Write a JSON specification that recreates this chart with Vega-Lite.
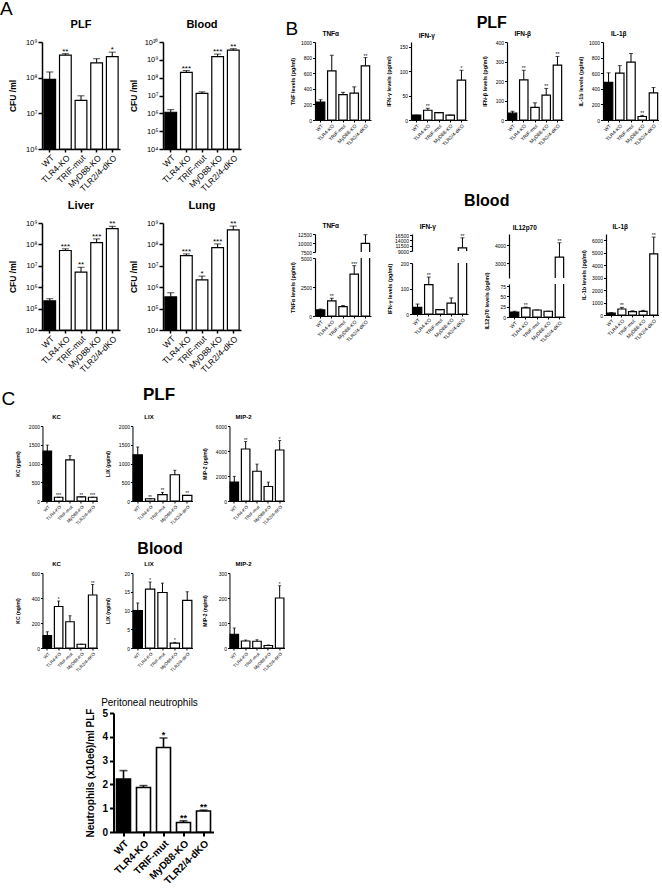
{
"$schema": "https://vega.github.io/schema/vega-lite/v6.json",
"padding": {"left": 0, "top": 0, "right": 0, "bottom": 0},
"datasets": {
"aPLF": [{"g":"WT","v":9e7,"e":1.45e8,"s":""},{"g":"TLR4-KO","v":4.3e8,"e":4.7e8,"s":"**"},{"g":"TRIF-mut","v":2.3e7,"e":3.1e7,"s":""},{"g":"MyD88-KO","v":2.6e8,"e":3.4e8,"s":""},{"g":"TLR2/4-dKO","v":3.9e8,"e":5.2e8,"s":"*"}],
"aBlood": [{"g":"WT","v":1.15e6,"e":1.6e6,"s":""},{"g":"TLR4-KO","v":2.0e8,"e":2.5e8,"s":"***"},{"g":"TRIF-mut","v":1.3e7,"e":1.6e7,"s":""},{"g":"MyD88-KO","v":1.5e9,"e":2.1e9,"s":"***"},{"g":"TLR2/4-dKO","v":3.5e9,"e":4.2e9,"s":"**"}],
"aLiver": [{"g":"WT","v":2.3e5,"e":2.9e5,"s":""},{"g":"TLR4-KO","v":5.2e7,"e":6.2e7,"s":"***"},{"g":"TRIF-mut","v":5.1e6,"e":8.5e6,"s":"**"},{"g":"MyD88-KO","v":1.2e8,"e":1.8e8,"s":"***"},{"g":"TLR2/4-dKO","v":5.5e8,"e":7e8,"s":"**"}],
"aLung": [{"g":"WT","v":3.5e5,"e":5.5e5,"s":""},{"g":"TLR4-KO","v":3e7,"e":3.6e7,"s":"***"},{"g":"TRIF-mut","v":2.2e6,"e":3.3e6,"s":"*"},{"g":"MyD88-KO","v":7e7,"e":1.05e8,"s":"***"},{"g":"TLR2/4-dKO","v":4.8e8,"e":7.2e8,"s":"**"}],
"bpTNF": [{"g":"WT","v":230,"e":260,"s":""},{"g":"TLR4-KO","v":630,"e":830,"s":""},{"g":"TRIF-mut","v":325,"e":355,"s":""},{"g":"MyD88-KO","v":345,"e":425,"s":""},{"g":"TLR2/4-dKO","v":695,"e":800,"s":"**"}],
"bpIFNg": [{"g":"WT","v":10,"e":10,"s":""},{"g":"TLR4-KO","v":20,"e":24,"s":"**"},{"g":"TRIF-mut","v":15,"e":15,"s":""},{"g":"MyD88-KO","v":10,"e":10,"s":""},{"g":"TLR2/4-dKO","v":82,"e":102,"s":"*"}],
"bpIFNb": [{"g":"WT","v":35,"e":45,"s":""},{"g":"TLR4-KO","v":206,"e":255,"s":"**"},{"g":"TRIF-mut","v":65,"e":88,"s":""},{"g":"MyD88-KO","v":128,"e":162,"s":"**"},{"g":"TLR2/4-dKO","v":281,"e":326,"s":"**"}],
"bpIL1b": [{"g":"WT","v":482,"e":605,"s":""},{"g":"TLR4-KO","v":600,"e":697,"s":""},{"g":"TRIF-mut","v":743,"e":852,"s":""},{"g":"MyD88-KO","v":45,"e":60,"s":"**"},{"g":"TLR2/4-dKO","v":347,"e":416,"s":""}],
"bbTNF": [{"g":"WT","v":520,"e":600,"s":""},{"g":"TLR4-KO","v":1300,"e":1530,"s":"**"},{"g":"TRIF-mut","v":810,"e":900,"s":""},{"g":"MyD88-KO","v":3610,"e":4340,"s":"***"},{"g":"TLR2/4-dKO","v":9900,"e":12300,"s":"**"}],
"bbIFNg": [{"g":"WT","v":26,"e":39,"s":""},{"g":"TLR4-KO","v":115,"e":145,"s":"**"},{"g":"TRIF-mut","v":17,"e":17,"s":""},{"g":"MyD88-KO","v":43,"e":63,"s":""},{"g":"TLR2/4-dKO","v":10500,"e":15200,"s":"**"}],
"bbIL12": [{"g":"WT","v":12,"e":14,"s":""},{"g":"TLR4-KO","v":22,"e":24,"s":"**"},{"g":"TRIF-mut","v":17,"e":17,"s":""},{"g":"MyD88-KO","v":14,"e":14,"s":""},{"g":"TLR2/4-dKO","v":3340,"e":4120,"s":"**"}],
"bbIL1b": [{"g":"WT","v":150,"e":200,"s":""},{"g":"TLR4-KO","v":480,"e":610,"s":"**"},{"g":"TRIF-mut","v":267,"e":340,"s":""},{"g":"MyD88-KO","v":293,"e":370,"s":""},{"g":"TLR2/4-dKO","v":4900,"e":6250,"s":"**"}],
"cpKC": [{"g":"WT","v":1330,"e":1490,"s":""},{"g":"TLR4-KO","v":100,"e":100,"s":"***"},{"g":"TRIF-mut","v":1096,"e":1210,"s":""},{"g":"MyD88-KO","v":110,"e":110,"s":"**"},{"g":"TLR2/4-dKO","v":100,"e":100,"s":"***"}],
"cpLIX": [{"g":"WT","v":1230,"e":1440,"s":""},{"g":"TLR4-KO","v":60,"e":60,"s":"**"},{"g":"TRIF-mut","v":170,"e":230,"s":"**"},{"g":"MyD88-KO","v":700,"e":820,"s":""},{"g":"TLR2/4-dKO","v":150,"e":150,"s":"**"}],
"cpMIP": [{"g":"WT","v":1510,"e":1970,"s":""},{"g":"TLR4-KO","v":4160,"e":4760,"s":"**"},{"g":"TRIF-mut","v":2380,"e":2950,"s":""},{"g":"MyD88-KO","v":1160,"e":1510,"s":""},{"g":"TLR2/4-dKO","v":4080,"e":4840,"s":"*"}],
"cbKC": [{"g":"WT","v":100,"e":130,"s":""},{"g":"TLR4-KO","v":332,"e":376,"s":"*"},{"g":"TRIF-mut","v":210,"e":258,"s":""},{"g":"MyD88-KO","v":30,"e":30,"s":""},{"g":"TLR2/4-dKO","v":424,"e":508,"s":"**"}],
"cbLIX": [{"g":"WT","v":10,"e":12,"s":""},{"g":"TLR4-KO","v":15.7,"e":17.6,"s":"*"},{"g":"TRIF-mut","v":14.8,"e":17.3,"s":""},{"g":"MyD88-KO","v":1.3,"e":1.5,"s":"*"},{"g":"TLR2/4-dKO","v":12.7,"e":15,"s":""}],
"cbMIP": [{"g":"WT","v":55,"e":80,"s":""},{"g":"TLR4-KO","v":28,"e":32,"s":""},{"g":"TRIF-mut","v":27,"e":33,"s":""},{"g":"MyD88-KO","v":10,"e":12,"s":""},{"g":"TLR2/4-dKO","v":200,"e":249,"s":"*"}],
"neut": [{"g":"WT","v":2.22,"e":2.58,"s":""},{"g":"TLR4-KO","v":1.87,"e":1.95,"s":""},{"g":"TRIF-mut","v":3.55,"e":3.95,"s":"*"},{"g":"MyD88-KO","v":0.4,"e":0.47,"s":"**"},{"g":"TLR2/4-dKO","v":0.88,"e":0.92,"s":"**"}]
},
"spacing": 12,
"vconcat": [
{
"spacing": 44,
"hconcat": [
{
"title": {"text": "A", "fontSize": 19, "fontWeight": "normal", "anchor": "start", "frame": "bounds", "offset": 0, "dx": -8},
"spacing": 7,
"vconcat": [
{"bounds": "flush", "spacing": 43, "hconcat": [
{"width": 78, "height": 107, "data": {"name": "aPLF"},
 "title": {"text": "PLF", "fontSize": 11, "fontWeight": "bold", "offset": 8},
 "encoding": {"x": {"field": "g", "type": "nominal", "sort": null, "title": null, "scale": {"paddingInner": 0.25, "paddingOuter": 0.12}, "axis": {"style": "axAx", "labelAngle": -45}}},
 "layer": [
  {"mark": "bar", "encoding": {"y": {"field": "v", "type": "quantitative", "scale": {"type": "log", "domain": [1e6, 1e9]}, "axis": {"style": "axA", "title": "CFU /ml", "values": [1e6, 1e7, 1e8, 1e9], "labelExpr": "['','','','','10⁴','10⁵','10⁶','10⁷','10⁸','10⁹','10¹⁰'][round(log(datum.value)/LN10)]"}}, "y2": {"datum": 1e6}, "fill": {"condition": {"test": "datum.g == 'WT'", "value": "black"}, "value": "white"}}},
  {"mark": "rule", "encoding": {"y": {"field": "v", "type": "quantitative", "axis": {"style": "axA", "title": "CFU /ml", "values": [1e6, 1e7, 1e8, 1e9], "labelExpr": "['','','','','10⁴','10⁵','10⁶','10⁷','10⁸','10⁹','10¹⁰'][round(log(datum.value)/LN10)]"}}, "y2": {"field": "e"}}},
  {"mark": {"type": "tick", "size": 7}, "encoding": {"y": {"field": "e", "type": "quantitative", "axis": {"style": "axA", "title": "CFU /ml", "values": [1e6, 1e7, 1e8, 1e9], "labelExpr": "['','','','','10⁴','10⁵','10⁶','10⁷','10⁸','10⁹','10¹⁰'][round(log(datum.value)/LN10)]"}}}},
  {"mark": {"type": "text", "fontSize": 8}, "encoding": {"y": {"field": "e", "type": "quantitative", "axis": {"style": "axA", "title": "CFU /ml", "values": [1e6, 1e7, 1e8, 1e9], "labelExpr": "['','','','','10⁴','10⁵','10⁶','10⁷','10⁸','10⁹','10¹⁰'][round(log(datum.value)/LN10)]"}}, "text": {"field": "s"}}}
 ]},
{"width": 78, "height": 107, "data": {"name": "aBlood"},
 "title": {"text": "Blood", "fontSize": 11, "fontWeight": "bold", "offset": 8},
 "encoding": {"x": {"field": "g", "type": "nominal", "sort": null, "title": null, "scale": {"paddingInner": 0.25, "paddingOuter": 0.12}, "axis": {"style": "axAx", "labelAngle": -45}}},
 "layer": [
  {"mark": "bar", "encoding": {"y": {"field": "v", "type": "quantitative", "scale": {"type": "log", "domain": [1e4, 1e10]}, "axis": {"style": "axA", "title": "CFU /ml", "values": [1e4, 1e5, 1e6, 1e7, 1e8, 1e9, 1e10], "labelExpr": "['','','','','10⁴','10⁵','10⁶','10⁷','10⁸','10⁹','10¹⁰'][round(log(datum.value)/LN10)]"}}, "y2": {"datum": 1e4}, "fill": {"condition": {"test": "datum.g == 'WT'", "value": "black"}, "value": "white"}}},
  {"mark": "rule", "encoding": {"y": {"field": "v", "type": "quantitative", "axis": {"style": "axA", "title": "CFU /ml", "values": [1e4, 1e5, 1e6, 1e7, 1e8, 1e9, 1e10], "labelExpr": "['','','','','10⁴','10⁵','10⁶','10⁷','10⁸','10⁹','10¹⁰'][round(log(datum.value)/LN10)]"}}, "y2": {"field": "e"}}},
  {"mark": {"type": "tick", "size": 7}, "encoding": {"y": {"field": "e", "type": "quantitative", "axis": {"style": "axA", "title": "CFU /ml", "values": [1e4, 1e5, 1e6, 1e7, 1e8, 1e9, 1e10], "labelExpr": "['','','','','10⁴','10⁵','10⁶','10⁷','10⁸','10⁹','10¹⁰'][round(log(datum.value)/LN10)]"}}}},
  {"mark": {"type": "text", "fontSize": 8}, "encoding": {"y": {"field": "e", "type": "quantitative", "axis": {"style": "axA", "title": "CFU /ml", "values": [1e4, 1e5, 1e6, 1e7, 1e8, 1e9, 1e10], "labelExpr": "['','','','','10⁴','10⁵','10⁶','10⁷','10⁸','10⁹','10¹⁰'][round(log(datum.value)/LN10)]"}}, "text": {"field": "s"}}}
 ]}
]},
{"bounds": "flush", "spacing": 43, "hconcat": [
{"width": 78, "height": 107, "data": {"name": "aLiver"},
 "title": {"text": "Liver", "fontSize": 11, "fontWeight": "bold", "offset": 8},
 "encoding": {"x": {"field": "g", "type": "nominal", "sort": null, "title": null, "scale": {"paddingInner": 0.25, "paddingOuter": 0.12}, "axis": {"style": "axAx", "labelAngle": -45}}},
 "layer": [
  {"mark": "bar", "encoding": {"y": {"field": "v", "type": "quantitative", "scale": {"type": "log", "domain": [1e4, 1e9]}, "axis": {"style": "axA", "title": "CFU /ml", "values": [1e4, 1e5, 1e6, 1e7, 1e8, 1e9], "labelExpr": "['','','','','10⁴','10⁵','10⁶','10⁷','10⁸','10⁹','10¹⁰'][round(log(datum.value)/LN10)]"}}, "y2": {"datum": 1e4}, "fill": {"condition": {"test": "datum.g == 'WT'", "value": "black"}, "value": "white"}}},
  {"mark": "rule", "encoding": {"y": {"field": "v", "type": "quantitative", "axis": {"style": "axA", "title": "CFU /ml", "values": [1e4, 1e5, 1e6, 1e7, 1e8, 1e9], "labelExpr": "['','','','','10⁴','10⁵','10⁶','10⁷','10⁸','10⁹','10¹⁰'][round(log(datum.value)/LN10)]"}}, "y2": {"field": "e"}}},
  {"mark": {"type": "tick", "size": 7}, "encoding": {"y": {"field": "e", "type": "quantitative", "axis": {"style": "axA", "title": "CFU /ml", "values": [1e4, 1e5, 1e6, 1e7, 1e8, 1e9], "labelExpr": "['','','','','10⁴','10⁵','10⁶','10⁷','10⁸','10⁹','10¹⁰'][round(log(datum.value)/LN10)]"}}}},
  {"mark": {"type": "text", "fontSize": 8}, "encoding": {"y": {"field": "e", "type": "quantitative", "axis": {"style": "axA", "title": "CFU /ml", "values": [1e4, 1e5, 1e6, 1e7, 1e8, 1e9], "labelExpr": "['','','','','10⁴','10⁵','10⁶','10⁷','10⁸','10⁹','10¹⁰'][round(log(datum.value)/LN10)]"}}, "text": {"field": "s"}}}
 ]},
{"width": 78, "height": 107, "data": {"name": "aLung"},
 "title": {"text": "Lung", "fontSize": 11, "fontWeight": "bold", "offset": 8},
 "encoding": {"x": {"field": "g", "type": "nominal", "sort": null, "title": null, "scale": {"paddingInner": 0.25, "paddingOuter": 0.12}, "axis": {"style": "axAx", "labelAngle": -45}}},
 "layer": [
  {"mark": "bar", "encoding": {"y": {"field": "v", "type": "quantitative", "scale": {"type": "log", "domain": [1e4, 1e9]}, "axis": {"style": "axA", "title": "CFU /ml", "values": [1e4, 1e5, 1e6, 1e7, 1e8, 1e9], "labelExpr": "['','','','','10⁴','10⁵','10⁶','10⁷','10⁸','10⁹','10¹⁰'][round(log(datum.value)/LN10)]"}}, "y2": {"datum": 1e4}, "fill": {"condition": {"test": "datum.g == 'WT'", "value": "black"}, "value": "white"}}},
  {"mark": "rule", "encoding": {"y": {"field": "v", "type": "quantitative", "axis": {"style": "axA", "title": "CFU /ml", "values": [1e4, 1e5, 1e6, 1e7, 1e8, 1e9], "labelExpr": "['','','','','10⁴','10⁵','10⁶','10⁷','10⁸','10⁹','10¹⁰'][round(log(datum.value)/LN10)]"}}, "y2": {"field": "e"}}},
  {"mark": {"type": "tick", "size": 7}, "encoding": {"y": {"field": "e", "type": "quantitative", "axis": {"style": "axA", "title": "CFU /ml", "values": [1e4, 1e5, 1e6, 1e7, 1e8, 1e9], "labelExpr": "['','','','','10⁴','10⁵','10⁶','10⁷','10⁸','10⁹','10¹⁰'][round(log(datum.value)/LN10)]"}}}},
  {"mark": {"type": "text", "fontSize": 8}, "encoding": {"y": {"field": "e", "type": "quantitative", "axis": {"style": "axA", "title": "CFU /ml", "values": [1e4, 1e5, 1e6, 1e7, 1e8, 1e9], "labelExpr": "['','','','','10⁴','10⁵','10⁶','10⁷','10⁸','10⁹','10¹⁰'][round(log(datum.value)/LN10)]"}}, "text": {"field": "s"}}}
 ]}
]}
]
},
{
"title": {"text": "B", "fontSize": 19, "fontWeight": "normal", "anchor": "start", "frame": "bounds", "offset": -24, "dx": -5},
"spacing": 45,
"vconcat": [
{"title": {"text": "PLF", "fontSize": 16, "fontWeight": "bold", "anchor": "middle", "frame": "bounds", "offset": 0, "dx": 17},
 "bounds": "flush", "spacing": 40, "hconcat": [
{"width": 56, "height": 78, "data": {"name": "bpTNF"},
 "title": {"text": "TNFα", "fontSize": 6.5, "fontWeight": "bold", "frame": "bounds", "offset": 3},
 "encoding": {"x": {"field": "g", "type": "nominal", "sort": null, "title": null, "scale": {"paddingInner": 0.25, "paddingOuter": 0.12}, "axis": {"style": "axBx", "labelAngle": -45}}},
 "layer": [
  {"mark": "bar", "encoding": {"y": {"field": "v", "type": "quantitative", "scale": {"domain": [0, 1000]}, "axis": {"style": "axB", "title": "TNF levels (pg/ml)", "values": [0, 200, 400, 600, 800, 1000]}}, "fill": {"condition": {"test": "datum.g == 'WT'", "value": "black"}, "value": "white"}}},
  {"mark": "rule", "encoding": {"y": {"field": "v", "type": "quantitative", "axis": {"style": "axB", "title": "TNF levels (pg/ml)", "values": [0, 200, 400, 600, 800, 1000]}}, "y2": {"field": "e"}}},
  {"mark": {"type": "tick", "size": 4}, "encoding": {"y": {"field": "e", "type": "quantitative", "axis": {"style": "axB", "title": "TNF levels (pg/ml)", "values": [0, 200, 400, 600, 800, 1000]}}}},
  {"mark": {"type": "text", "fontSize": 5}, "encoding": {"y": {"field": "e", "type": "quantitative", "axis": {"style": "axB", "title": "TNF levels (pg/ml)", "values": [0, 200, 400, 600, 800, 1000]}}, "text": {"field": "s"}}}
 ]},
{"width": 56, "height": 78, "data": {"name": "bpIFNg"},
 "title": {"text": "IFN-γ", "fontSize": 6.5, "fontWeight": "bold", "frame": "bounds", "offset": 3},
 "encoding": {"x": {"field": "g", "type": "nominal", "sort": null, "title": null, "scale": {"paddingInner": 0.25, "paddingOuter": 0.12}, "axis": {"style": "axBx", "labelAngle": -45}}},
 "layer": [
  {"mark": "bar", "encoding": {"y": {"field": "v", "type": "quantitative", "scale": {"domain": [0, 150]}, "axis": {"style": "axB", "title": "IFN-γ levels (pg/ml)", "values": [0, 50, 100, 150]}}, "fill": {"condition": {"test": "datum.g == 'WT'", "value": "black"}, "value": "white"}}},
  {"mark": "rule", "encoding": {"y": {"field": "v", "type": "quantitative", "axis": {"style": "axB", "title": "IFN-γ levels (pg/ml)", "values": [0, 50, 100, 150]}}, "y2": {"field": "e"}}},
  {"mark": {"type": "tick", "size": 4}, "encoding": {"y": {"field": "e", "type": "quantitative", "axis": {"style": "axB", "title": "IFN-γ levels (pg/ml)", "values": [0, 50, 100, 150]}}}},
  {"mark": {"type": "text", "fontSize": 5}, "encoding": {"y": {"field": "e", "type": "quantitative", "axis": {"style": "axB", "title": "IFN-γ levels (pg/ml)", "values": [0, 50, 100, 150]}}, "text": {"field": "s"}}}
 ]},
{"width": 56, "height": 78, "data": {"name": "bpIFNb"},
 "title": {"text": "IFN-β", "fontSize": 6.5, "fontWeight": "bold", "frame": "bounds", "offset": 3},
 "encoding": {"x": {"field": "g", "type": "nominal", "sort": null, "title": null, "scale": {"paddingInner": 0.25, "paddingOuter": 0.12}, "axis": {"style": "axBx", "labelAngle": -45}}},
 "layer": [
  {"mark": "bar", "encoding": {"y": {"field": "v", "type": "quantitative", "scale": {"domain": [0, 400]}, "axis": {"style": "axB", "title": "IFN-β levels (pg/ml)", "values": [0, 100, 200, 300, 400]}}, "fill": {"condition": {"test": "datum.g == 'WT'", "value": "black"}, "value": "white"}}},
  {"mark": "rule", "encoding": {"y": {"field": "v", "type": "quantitative", "axis": {"style": "axB", "title": "IFN-β levels (pg/ml)", "values": [0, 100, 200, 300, 400]}}, "y2": {"field": "e"}}},
  {"mark": {"type": "tick", "size": 4}, "encoding": {"y": {"field": "e", "type": "quantitative", "axis": {"style": "axB", "title": "IFN-β levels (pg/ml)", "values": [0, 100, 200, 300, 400]}}}},
  {"mark": {"type": "text", "fontSize": 5}, "encoding": {"y": {"field": "e", "type": "quantitative", "axis": {"style": "axB", "title": "IFN-β levels (pg/ml)", "values": [0, 100, 200, 300, 400]}}, "text": {"field": "s"}}}
 ]},
{"width": 56, "height": 78, "data": {"name": "bpIL1b"},
 "title": {"text": "IL-1β", "fontSize": 6.5, "fontWeight": "bold", "frame": "bounds", "offset": 3},
 "encoding": {"x": {"field": "g", "type": "nominal", "sort": null, "title": null, "scale": {"paddingInner": 0.25, "paddingOuter": 0.12}, "axis": {"style": "axBx", "labelAngle": -45}}},
 "layer": [
  {"mark": "bar", "encoding": {"y": {"field": "v", "type": "quantitative", "scale": {"domain": [0, 1000]}, "axis": {"style": "axB", "title": "IL-1b levels (pg/ml)", "values": [0, 200, 400, 600, 800, 1000]}}, "fill": {"condition": {"test": "datum.g == 'WT'", "value": "black"}, "value": "white"}}},
  {"mark": "rule", "encoding": {"y": {"field": "v", "type": "quantitative", "axis": {"style": "axB", "title": "IL-1b levels (pg/ml)", "values": [0, 200, 400, 600, 800, 1000]}}, "y2": {"field": "e"}}},
  {"mark": {"type": "tick", "size": 4}, "encoding": {"y": {"field": "e", "type": "quantitative", "axis": {"style": "axB", "title": "IL-1b levels (pg/ml)", "values": [0, 200, 400, 600, 800, 1000]}}}},
  {"mark": {"type": "text", "fontSize": 5}, "encoding": {"y": {"field": "e", "type": "quantitative", "axis": {"style": "axB", "title": "IL-1b levels (pg/ml)", "values": [0, 200, 400, 600, 800, 1000]}}, "text": {"field": "s"}}}
 ]}
]},
{"title": {"text": "Blood", "fontSize": 16, "fontWeight": "bold", "anchor": "middle", "offset": 14, "dx": 12},
 "spacing": 16, "hconcat": [
{"title": {"text": "TNFα", "fontSize": 6.5, "fontWeight": "bold", "anchor": "middle", "frame": "bounds", "offset": 3},
 "bounds": "flush", "spacing": 6, "vconcat": [
 {"width": 56, "height": 18, "data": {"name": "bbTNF"},
  "encoding": {"x": {"field": "g", "type": "nominal", "sort": null, "title": null, "scale": {"paddingInner": 0.25, "paddingOuter": 0.12}, "axis": null}},
  "layer": [
   {"mark": {"type": "bar", "clip": true}, "encoding": {"y": {"field": "v", "type": "quantitative", "scale": {"domain": [7500, 12500]}, "axis": {"style": "axB", "title": null, "values": [7500, 10000, 12500]}}, "fill": {"condition": {"test": "datum.g == 'WT'", "value": "black"}, "value": "white"}}},
   {"mark": {"type": "rule", "clip": true}, "encoding": {"y": {"field": "v", "type": "quantitative", "axis": {"style": "axB", "title": null, "values": [7500, 10000, 12500]}}, "y2": {"field": "e"}}},
   {"mark": {"type": "tick", "size": 4, "clip": true}, "encoding": {"y": {"field": "e", "type": "quantitative", "axis": {"style": "axB", "title": null, "values": [7500, 10000, 12500]}}}},
   {"mark": {"type": "text", "fontSize": 5, "clip": true}, "encoding": {"y": {"field": "e", "type": "quantitative", "axis": {"style": "axB", "title": null, "values": [7500, 10000, 12500]}}, "text": {"field": "s"}}}
  ]},
 {"width": 56, "height": 58, "data": {"name": "bbTNF"},
  "encoding": {"x": {"field": "g", "type": "nominal", "sort": null, "title": null, "scale": {"paddingInner": 0.25, "paddingOuter": 0.12}, "axis": {"style": "axBx", "labelAngle": -45}}},
  "layer": [
   {"mark": {"type": "bar", "clip": true}, "encoding": {"y": {"field": "v", "type": "quantitative", "scale": {"domain": [0, 5000]}, "axis": {"style": "axB", "title": "TNFα levels (pg/ml)", "values": [0, 2500, 5000]}}, "fill": {"condition": {"test": "datum.g == 'WT'", "value": "black"}, "value": "white"}}},
   {"mark": {"type": "rule", "clip": true}, "encoding": {"y": {"field": "v", "type": "quantitative", "axis": {"style": "axB", "title": "TNFα levels (pg/ml)", "values": [0, 2500, 5000]}}, "y2": {"field": "e"}}},
   {"mark": {"type": "tick", "size": 4, "clip": true}, "encoding": {"y": {"field": "e", "type": "quantitative", "axis": {"style": "axB", "title": "TNFα levels (pg/ml)", "values": [0, 2500, 5000]}}}},
   {"mark": {"type": "text", "fontSize": 5, "clip": true}, "encoding": {"y": {"field": "e", "type": "quantitative", "axis": {"style": "axB", "title": "TNFα levels (pg/ml)", "values": [0, 2500, 5000]}}, "text": {"field": "s"}}}
  ]}
 ]},
{"title": {"text": "IFN-γ", "fontSize": 6.5, "fontWeight": "bold", "anchor": "middle", "frame": "bounds", "offset": 3},
 "bounds": "flush", "spacing": 12, "vconcat": [
 {"width": 56, "height": 17, "data": {"name": "bbIFNg"},
  "encoding": {"x": {"field": "g", "type": "nominal", "sort": null, "title": null, "scale": {"paddingInner": 0.25, "paddingOuter": 0.12}, "axis": null}},
  "layer": [
   {"mark": {"type": "bar", "clip": true}, "encoding": {"y": {"field": "v", "type": "quantitative", "scale": {"domain": [9000, 16500]}, "axis": {"style": "axB", "title": null, "values": [9000, 11500, 14000, 16500]}}, "fill": {"condition": {"test": "datum.g == 'WT'", "value": "black"}, "value": "white"}}},
   {"mark": {"type": "rule", "clip": true}, "encoding": {"y": {"field": "v", "type": "quantitative", "axis": {"style": "axB", "title": null, "values": [9000, 11500, 14000, 16500]}}, "y2": {"field": "e"}}},
   {"mark": {"type": "tick", "size": 4, "clip": true}, "encoding": {"y": {"field": "e", "type": "quantitative", "axis": {"style": "axB", "title": null, "values": [9000, 11500, 14000, 16500]}}}},
   {"mark": {"type": "text", "fontSize": 5, "clip": true}, "encoding": {"y": {"field": "e", "type": "quantitative", "axis": {"style": "axB", "title": null, "values": [9000, 11500, 14000, 16500]}}, "text": {"field": "s"}}}
  ]},
 {"width": 56, "height": 51, "data": {"name": "bbIFNg"},
  "encoding": {"x": {"field": "g", "type": "nominal", "sort": null, "title": null, "scale": {"paddingInner": 0.25, "paddingOuter": 0.12}, "axis": {"style": "axBx", "labelAngle": -45}}},
  "layer": [
   {"mark": {"type": "bar", "clip": true}, "encoding": {"y": {"field": "v", "type": "quantitative", "scale": {"domain": [0, 200]}, "axis": {"style": "axB", "title": "IFN-γ levels (pg/ml)", "values": [0, 100, 200]}}, "fill": {"condition": {"test": "datum.g == 'WT'", "value": "black"}, "value": "white"}}},
   {"mark": {"type": "rule", "clip": true}, "encoding": {"y": {"field": "v", "type": "quantitative", "axis": {"style": "axB", "title": "IFN-γ levels (pg/ml)", "values": [0, 100, 200]}}, "y2": {"field": "e"}}},
   {"mark": {"type": "tick", "size": 4, "clip": true}, "encoding": {"y": {"field": "e", "type": "quantitative", "axis": {"style": "axB", "title": "IFN-γ levels (pg/ml)", "values": [0, 100, 200]}}}},
   {"mark": {"type": "text", "fontSize": 5, "clip": true}, "encoding": {"y": {"field": "e", "type": "quantitative", "axis": {"style": "axB", "title": "IFN-γ levels (pg/ml)", "values": [0, 100, 200]}}, "text": {"field": "s"}}}
  ]}
 ]},
{"title": {"text": "IL12p70", "fontSize": 6.5, "fontWeight": "bold", "anchor": "middle", "frame": "bounds", "offset": 3},
 "bounds": "flush", "spacing": 6, "vconcat": [
 {"width": 56, "height": 44, "data": {"name": "bbIL12"},
  "encoding": {"x": {"field": "g", "type": "nominal", "sort": null, "title": null, "scale": {"paddingInner": 0.25, "paddingOuter": 0.12}, "axis": null}},
  "layer": [
   {"mark": {"type": "bar", "clip": true}, "encoding": {"y": {"field": "v", "type": "quantitative", "scale": {"domain": [2200, 4470]}, "axis": {"style": "axB", "title": null, "values": [3000, 4000]}}, "fill": {"condition": {"test": "datum.g == 'WT'", "value": "black"}, "value": "white"}}},
   {"mark": {"type": "rule", "clip": true}, "encoding": {"y": {"field": "v", "type": "quantitative", "axis": {"style": "axB", "title": null, "values": [3000, 4000]}}, "y2": {"field": "e"}}},
   {"mark": {"type": "tick", "size": 4, "clip": true}, "encoding": {"y": {"field": "e", "type": "quantitative", "axis": {"style": "axB", "title": null, "values": [3000, 4000]}}}},
   {"mark": {"type": "text", "fontSize": 5, "clip": true}, "encoding": {"y": {"field": "e", "type": "quantitative", "axis": {"style": "axB", "title": null, "values": [3000, 4000]}}, "text": {"field": "s"}}}
  ]},
 {"width": 56, "height": 33, "data": {"name": "bbIL12"},
  "encoding": {"x": {"field": "g", "type": "nominal", "sort": null, "title": null, "scale": {"paddingInner": 0.25, "paddingOuter": 0.12}, "axis": {"style": "axBx", "labelAngle": -45}}},
  "layer": [
   {"mark": {"type": "bar", "clip": true}, "encoding": {"y": {"field": "v", "type": "quantitative", "scale": {"domain": [0, 75]}, "axis": {"style": "axB", "title": "IL12p70 levels (pg/ml)", "values": [0, 25, 50, 75]}}, "fill": {"condition": {"test": "datum.g == 'WT'", "value": "black"}, "value": "white"}}},
   {"mark": {"type": "rule", "clip": true}, "encoding": {"y": {"field": "v", "type": "quantitative", "axis": {"style": "axB", "title": "IL12p70 levels (pg/ml)", "values": [0, 25, 50, 75]}}, "y2": {"field": "e"}}},
   {"mark": {"type": "tick", "size": 4, "clip": true}, "encoding": {"y": {"field": "e", "type": "quantitative", "axis": {"style": "axB", "title": "IL12p70 levels (pg/ml)", "values": [0, 25, 50, 75]}}}},
   {"mark": {"type": "text", "fontSize": 5, "clip": true}, "encoding": {"y": {"field": "e", "type": "quantitative", "axis": {"style": "axB", "title": "IL12p70 levels (pg/ml)", "values": [0, 25, 50, 75]}}, "text": {"field": "s"}}}
  ]}
 ]},
{"width": 53, "height": 81, "data": {"name": "bbIL1b"},
 "title": {"text": "IL-1β", "fontSize": 6.5, "fontWeight": "bold", "frame": "bounds", "offset": 3},
 "encoding": {"x": {"field": "g", "type": "nominal", "sort": null, "title": null, "scale": {"paddingInner": 0.25, "paddingOuter": 0.12}, "axis": {"style": "axBx", "labelAngle": -45}}},
 "layer": [
  {"mark": "bar", "encoding": {"y": {"field": "v", "type": "quantitative", "scale": {"domain": [0, 6500]}, "axis": {"style": "axB", "title": "IL-1b levels (pg/ml)", "values": [0, 1000, 2000, 3000, 4000, 5000, 6000]}}, "fill": {"condition": {"test": "datum.g == 'WT'", "value": "black"}, "value": "white"}}},
  {"mark": "rule", "encoding": {"y": {"field": "v", "type": "quantitative", "axis": {"style": "axB", "title": "IL-1b levels (pg/ml)", "values": [0, 1000, 2000, 3000, 4000, 5000, 6000]}}, "y2": {"field": "e"}}},
  {"mark": {"type": "tick", "size": 4}, "encoding": {"y": {"field": "e", "type": "quantitative", "axis": {"style": "axB", "title": "IL-1b levels (pg/ml)", "values": [0, 1000, 2000, 3000, 4000, 5000, 6000]}}}},
  {"mark": {"type": "text", "fontSize": 5}, "encoding": {"y": {"field": "e", "type": "quantitative", "axis": {"style": "axB", "title": "IL-1b levels (pg/ml)", "values": [0, 1000, 2000, 3000, 4000, 5000, 6000]}}, "text": {"field": "s"}}}
 ]}
]}
]
}
]
},
{
"title": {"text": "C", "fontSize": 19, "fontWeight": "normal", "anchor": "start", "frame": "bounds", "offset": -23, "dx": -14},
"center": true,
"spacing": 25,
"vconcat": [
{"spacing": 15, "vconcat": [
{"title": {"text": "PLF", "fontSize": 17, "fontWeight": "bold", "anchor": "middle", "offset": 10, "dx": 9},
 "spacing": 10, "hconcat": [
 {"bounds": "flush", "spacing": 35, "hconcat": [
 {"width": 55, "height": 75, "data": {"name": "cpKC"},
  "title": {"text": "KC", "fontSize": 6, "fontWeight": "bold", "frame": "bounds", "offset": 4},
  "encoding": {"x": {"field": "g", "type": "nominal", "sort": null, "title": null, "scale": {"paddingInner": 0.25, "paddingOuter": 0.05}, "axis": {"style": "axCx", "labelAngle": -45}}},
  "layer": [
   {"mark": "bar", "encoding": {"y": {"field": "v", "type": "quantitative", "scale": {"domain": [0, 2000]}, "axis": {"style": "axC", "title": "KC (pg/ml)", "values": [0, 500, 1000, 1500, 2000]}}, "fill": {"condition": {"test": "datum.g == 'WT'", "value": "black"}, "value": "white"}}},
   {"mark": "rule", "encoding": {"y": {"field": "v", "type": "quantitative", "axis": {"style": "axC", "title": "KC (pg/ml)", "values": [0, 500, 1000, 1500, 2000]}}, "y2": {"field": "e"}}},
   {"mark": {"type": "tick", "size": 3}, "encoding": {"y": {"field": "e", "type": "quantitative", "axis": {"style": "axC", "title": "KC (pg/ml)", "values": [0, 500, 1000, 1500, 2000]}}}},
   {"mark": {"type": "text", "fontSize": 4.5}, "encoding": {"y": {"field": "e", "type": "quantitative", "axis": {"style": "axC", "title": "KC (pg/ml)", "values": [0, 500, 1000, 1500, 2000]}}, "text": {"field": "s"}}}
  ]},
 {"width": 60, "height": 75, "data": {"name": "cpLIX"},
  "title": {"text": "LIX", "fontSize": 6, "fontWeight": "bold", "frame": "bounds", "offset": 4},
  "encoding": {"x": {"field": "g", "type": "nominal", "sort": null, "title": null, "scale": {"paddingInner": 0.25, "paddingOuter": 0.05}, "axis": {"style": "axCx", "labelAngle": -45}}},
  "layer": [
   {"mark": "bar", "encoding": {"y": {"field": "v", "type": "quantitative", "scale": {"domain": [0, 2000]}, "axis": {"style": "axC", "title": "LIX (pg/ml)", "values": [0, 500, 1000, 1500, 2000]}}, "fill": {"condition": {"test": "datum.g == 'WT'", "value": "black"}, "value": "white"}}},
   {"mark": "rule", "encoding": {"y": {"field": "v", "type": "quantitative", "axis": {"style": "axC", "title": "LIX (pg/ml)", "values": [0, 500, 1000, 1500, 2000]}}, "y2": {"field": "e"}}},
   {"mark": {"type": "tick", "size": 3}, "encoding": {"y": {"field": "e", "type": "quantitative", "axis": {"style": "axC", "title": "LIX (pg/ml)", "values": [0, 500, 1000, 1500, 2000]}}}},
   {"mark": {"type": "text", "fontSize": 4.5}, "encoding": {"y": {"field": "e", "type": "quantitative", "axis": {"style": "axC", "title": "LIX (pg/ml)", "values": [0, 500, 1000, 1500, 2000]}}, "text": {"field": "s"}}}
  ]}
 ]},
 {"width": 55, "height": 75, "data": {"name": "cpMIP"},
  "title": {"text": "MIP-2", "fontSize": 6, "fontWeight": "bold", "frame": "bounds", "offset": 4},
  "encoding": {"x": {"field": "g", "type": "nominal", "sort": null, "title": null, "scale": {"paddingInner": 0.25, "paddingOuter": 0.05}, "axis": {"style": "axCx", "labelAngle": -45}}},
  "layer": [
   {"mark": "bar", "encoding": {"y": {"field": "v", "type": "quantitative", "scale": {"domain": [0, 6000]}, "axis": {"style": "axC", "title": "MIP-2 (pg/ml)", "values": [0, 2000, 4000, 6000]}}, "fill": {"condition": {"test": "datum.g == 'WT'", "value": "black"}, "value": "white"}}},
   {"mark": "rule", "encoding": {"y": {"field": "v", "type": "quantitative", "axis": {"style": "axC", "title": "MIP-2 (pg/ml)", "values": [0, 2000, 4000, 6000]}}, "y2": {"field": "e"}}},
   {"mark": {"type": "tick", "size": 3}, "encoding": {"y": {"field": "e", "type": "quantitative", "axis": {"style": "axC", "title": "MIP-2 (pg/ml)", "values": [0, 2000, 4000, 6000]}}}},
   {"mark": {"type": "text", "fontSize": 4.5}, "encoding": {"y": {"field": "e", "type": "quantitative", "axis": {"style": "axC", "title": "MIP-2 (pg/ml)", "values": [0, 2000, 4000, 6000]}}, "text": {"field": "s"}}}
  ]}
]},
{"title": {"text": "Blood", "fontSize": 16, "fontWeight": "bold", "anchor": "middle", "offset": 4, "dx": 10},
 "spacing": 10, "hconcat": [
 {"bounds": "flush", "spacing": 35, "hconcat": [
 {"width": 55, "height": 75, "data": {"name": "cbKC"},
  "title": {"text": "KC", "fontSize": 6, "fontWeight": "bold", "frame": "bounds", "offset": 4},
  "encoding": {"x": {"field": "g", "type": "nominal", "sort": null, "title": null, "scale": {"paddingInner": 0.25, "paddingOuter": 0.05}, "axis": {"style": "axCx", "labelAngle": -45}}},
  "layer": [
   {"mark": "bar", "encoding": {"y": {"field": "v", "type": "quantitative", "scale": {"domain": [0, 600]}, "axis": {"style": "axC", "title": "KC (ng/ml)", "values": [0, 200, 400, 600]}}, "fill": {"condition": {"test": "datum.g == 'WT'", "value": "black"}, "value": "white"}}},
   {"mark": "rule", "encoding": {"y": {"field": "v", "type": "quantitative", "axis": {"style": "axC", "title": "KC (ng/ml)", "values": [0, 200, 400, 600]}}, "y2": {"field": "e"}}},
   {"mark": {"type": "tick", "size": 3}, "encoding": {"y": {"field": "e", "type": "quantitative", "axis": {"style": "axC", "title": "KC (ng/ml)", "values": [0, 200, 400, 600]}}}},
   {"mark": {"type": "text", "fontSize": 4.5}, "encoding": {"y": {"field": "e", "type": "quantitative", "axis": {"style": "axC", "title": "KC (ng/ml)", "values": [0, 200, 400, 600]}}, "text": {"field": "s"}}}
  ]},
 {"width": 60, "height": 75, "data": {"name": "cbLIX"},
  "title": {"text": "LIX", "fontSize": 6, "fontWeight": "bold", "frame": "bounds", "offset": 4},
  "encoding": {"x": {"field": "g", "type": "nominal", "sort": null, "title": null, "scale": {"paddingInner": 0.25, "paddingOuter": 0.05}, "axis": {"style": "axCx", "labelAngle": -45}}},
  "layer": [
   {"mark": "bar", "encoding": {"y": {"field": "v", "type": "quantitative", "scale": {"domain": [0, 20]}, "axis": {"style": "axC", "title": "LIX (ng/ml)", "values": [0, 5, 10, 15, 20]}}, "fill": {"condition": {"test": "datum.g == 'WT'", "value": "black"}, "value": "white"}}},
   {"mark": "rule", "encoding": {"y": {"field": "v", "type": "quantitative", "axis": {"style": "axC", "title": "LIX (ng/ml)", "values": [0, 5, 10, 15, 20]}}, "y2": {"field": "e"}}},
   {"mark": {"type": "tick", "size": 3}, "encoding": {"y": {"field": "e", "type": "quantitative", "axis": {"style": "axC", "title": "LIX (ng/ml)", "values": [0, 5, 10, 15, 20]}}}},
   {"mark": {"type": "text", "fontSize": 4.5}, "encoding": {"y": {"field": "e", "type": "quantitative", "axis": {"style": "axC", "title": "LIX (ng/ml)", "values": [0, 5, 10, 15, 20]}}, "text": {"field": "s"}}}
  ]}
 ]},
 {"width": 55, "height": 75, "data": {"name": "cbMIP"},
  "title": {"text": "MIP-2", "fontSize": 6, "fontWeight": "bold", "frame": "bounds", "offset": 4},
  "encoding": {"x": {"field": "g", "type": "nominal", "sort": null, "title": null, "scale": {"paddingInner": 0.25, "paddingOuter": 0.05}, "axis": {"style": "axCx", "labelAngle": -45}}},
  "layer": [
   {"mark": "bar", "encoding": {"y": {"field": "v", "type": "quantitative", "scale": {"domain": [0, 300]}, "axis": {"style": "axC", "title": "MIP-2 (ng/ml)", "values": [0, 100, 200, 300]}}, "fill": {"condition": {"test": "datum.g == 'WT'", "value": "black"}, "value": "white"}}},
   {"mark": "rule", "encoding": {"y": {"field": "v", "type": "quantitative", "axis": {"style": "axC", "title": "MIP-2 (ng/ml)", "values": [0, 100, 200, 300]}}, "y2": {"field": "e"}}},
   {"mark": {"type": "tick", "size": 3}, "encoding": {"y": {"field": "e", "type": "quantitative", "axis": {"style": "axC", "title": "MIP-2 (ng/ml)", "values": [0, 100, 200, 300]}}}},
   {"mark": {"type": "text", "fontSize": 4.5}, "encoding": {"y": {"field": "e", "type": "quantitative", "axis": {"style": "axC", "title": "MIP-2 (ng/ml)", "values": [0, 100, 200, 300]}}, "text": {"field": "s"}}}
  ]}
]}
]},
{"width": 100, "height": 119, "data": {"name": "neut"},
 "title": {"text": "Peritoneal neutrophils", "fontSize": 10, "fontWeight": "normal", "frame": "bounds", "offset": 0},
 "encoding": {"x": {"field": "g", "type": "nominal", "sort": null, "title": null, "scale": {"paddingInner": 0.3, "paddingOuter": 0.15}, "axis": {"style": "axNx", "labelAngle": -45}}},
 "layer": [
  {"mark": {"type": "bar", "strokeWidth": 1.6}, "encoding": {"y": {"field": "v", "type": "quantitative", "scale": {"domain": [0, 5]}, "axis": {"style": "axN", "title": "Neutrophils (x10e6)/ml PLF", "values": [0, 1, 2, 3, 4, 5]}}, "fill": {"condition": {"test": "datum.g == 'WT'", "value": "black"}, "value": "white"}}},
  {"mark": {"type": "rule", "strokeWidth": 1.6}, "encoding": {"y": {"field": "v", "type": "quantitative", "axis": {"style": "axN", "title": "Neutrophils (x10e6)/ml PLF", "values": [0, 1, 2, 3, 4, 5]}}, "y2": {"field": "e"}}},
  {"mark": {"type": "tick", "size": 8, "thickness": 1.6}, "encoding": {"y": {"field": "e", "type": "quantitative", "axis": {"style": "axN", "title": "Neutrophils (x10e6)/ml PLF", "values": [0, 1, 2, 3, 4, 5]}}}},
  {"mark": {"type": "text", "fontSize": 9, "fontWeight": "bold"}, "encoding": {"y": {"field": "e", "type": "quantitative", "axis": {"style": "axN", "title": "Neutrophils (x10e6)/ml PLF", "values": [0, 1, 2, 3, 4, 5]}}, "text": {"field": "s"}}}
 ]}
]
}
],
"config": {
 "view": {"stroke": null},
 "font": "Liberation Sans",
 "bar": {"stroke": "black", "strokeWidth": 1.2},
 "rule": {"color": "black", "strokeWidth": 1},
 "tick": {"color": "black", "thickness": 1},
 "text": {"color": "black", "baseline": "alphabetic", "align": "center"},
 "title": {"color": "black", "font": "Liberation Sans"},
 "axis": {"grid": false, "domainColor": "black", "tickColor": "black", "labelColor": "black", "titleColor": "black", "labelFont": "Liberation Sans", "titleFont": "Liberation Sans", "titleFontWeight": "bold", "labelOverlap": false, "labelFlush": false},
 "style": {
  "axA": {"labelFontSize": 7.5, "titleFontSize": 8.5, "domainWidth": 1.5, "tickWidth": 1.5, "tickSize": 4, "labelPadding": 1, "titlePadding": 6, "minExtent": 19, "maxExtent": 19, "labelOverlap": false},
  "axAx": {"labelFontSize": 8.5, "domainWidth": 1.5, "tickWidth": 1.5, "tickSize": 3, "labelPadding": 1},
  "axB": {"labelFontSize": 5, "titleFontSize": 5.5, "domainWidth": 1.2, "tickWidth": 1, "tickSize": 2.5, "labelPadding": 1, "titlePadding": 2, "minExtent": 17.5, "maxExtent": 17.5, "labelOverlap": false, "format": "d"},
  "axBx": {"labelFontSize": 5, "domainWidth": 1.2, "tickWidth": 1, "tickSize": 2, "labelPadding": 1},
  "axC": {"labelFontSize": 5, "titleFontSize": 5, "domainWidth": 1, "tickWidth": 1, "tickSize": 2, "labelPadding": 1, "titlePadding": 8, "minExtent": 14, "maxExtent": 14, "labelOverlap": false, "format": "d"},
  "axCx": {"labelFontSize": 4.5, "domainWidth": 1, "tickWidth": 1, "tickSize": 2, "labelPadding": 1},
  "axN": {"labelFontSize": 10, "labelFontWeight": "bold", "titleFontSize": 10, "domainWidth": 2, "tickWidth": 2, "tickSize": 4, "labelPadding": 2, "titlePadding": 6, "minExtent": 12, "maxExtent": 12, "labelOverlap": false, "format": "d"},
  "axNx": {"labelFontSize": 10, "labelFontWeight": "bold", "domainWidth": 2, "tickWidth": 2, "tickSize": 4, "labelPadding": 2}
 }
}
}
